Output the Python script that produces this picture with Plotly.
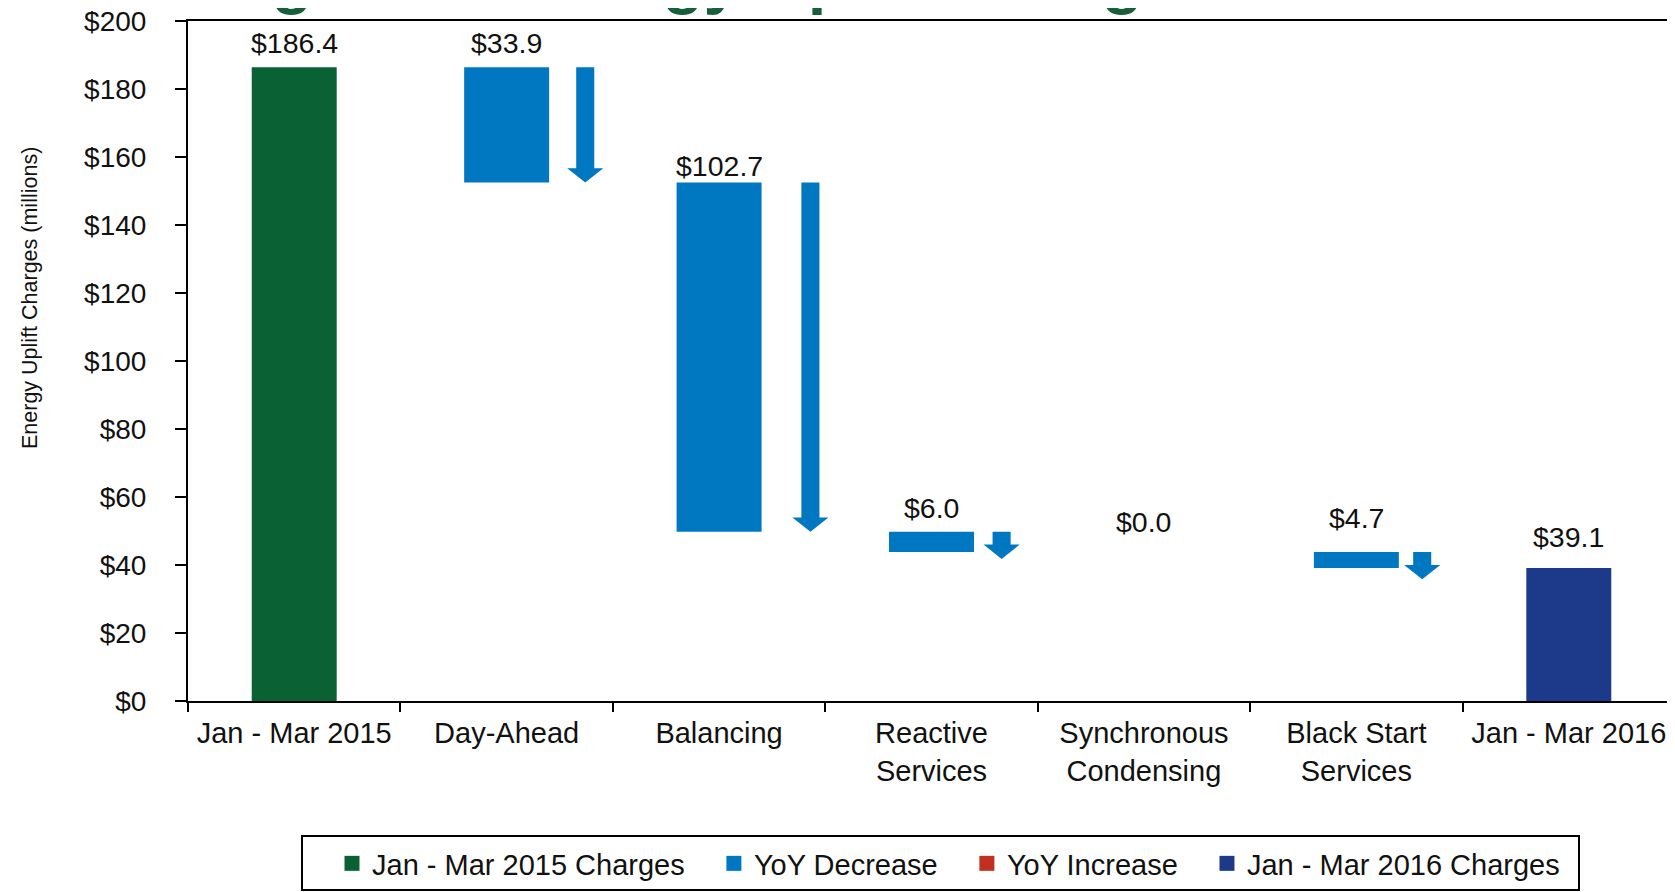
import plotly.graph_objects as go

# ---------------- data ----------------
categories = ["Jan - Mar 2015", "Day-Ahead", "Balancing", "Reactive<br>Services",
              "Synchronous<br>Condensing", "Black Start<br>Services", "Jan - Mar 2016"]
start_total = 186.4                          # Jan - Mar 2015 charges
changes = [-33.9, -102.7, -6.0, 0.0, -4.7]   # Day-Ahead .. Black Start (YoY)
end_total = 39.1                             # Jan - Mar 2016 charges
y_tick_values = [0, 20, 40, 60, 80, 100, 120, 140, 160, 180, 200]
y_tick_labels = ["$" + str(v) for v in y_tick_values]
legend_names = ["Jan - Mar 2015 Charges", "YoY Decrease", "YoY Increase", "Jan - Mar 2016 Charges"]
title_text = "Figure 1: Energy Uplift Charges"
y_title = "Energy Uplift Charges (millions)"

# ---------------- style ----------------
C_START = "#0A6234"
C_DEC = "#0077C1"
C_INC = "#C1311E"
C_END = "#1D3A8A"
LEG_COLORS = [C_START, C_DEC, C_INC, C_END]
TXT = "#111111"
FONT = "Liberation Sans, Arial, sans-serif"
BAR_W = 0.4
ARROW_DX = [0.37, 0.43, 0.33, 0.36, 0.31]   # arrow offset right of each change bar
SHAFT_W = 0.085
HEAD_W = 0.17
HEAD_H = 4.2
MIN_ARROW = 8.0
LABEL_SHIFT = [24, 24, 17, 24, 30, 34, 31]
LEG_PAD = "\u00a0\u00a0\u00a0"

# page has an 8px body margin: size the figure so the plot area lands where the source has it
OFF = 8
W, H = 1675 - OFF, 892 - OFF
ML, MR, MT = 188 - OFF, 0, 21 - OFF
PW, PH = 1487, 680
MB = H - MT - PH


def px(xp):   # page x -> paper x
    return (xp - 188) / PW


def py(yp):   # page y -> paper y
    return (701 - yp) / PH


fig = go.Figure()

# start bar
fig.add_trace(go.Bar(x=[0], y=[start_total], base=[0], width=BAR_W, showlegend=False,
                     name=legend_names[0], marker=dict(color=C_START, line=dict(width=0))))

# change bars (waterfall)
level = start_total
dec_x, dec_y, dec_base, tops = [], [], [], [start_total]
inc_x, inc_y, inc_base = [], [], []
levels_before = []
for i, ch in enumerate(changes):
    levels_before.append(level)
    new_level = level + ch
    if ch <= 0:
        dec_x.append(i + 1); dec_y.append(-ch); dec_base.append(new_level)
    else:
        inc_x.append(i + 1); inc_y.append(ch); inc_base.append(level)
    tops.append(max(level, new_level))
    level = new_level
tops.append(end_total)

fig.add_trace(go.Bar(x=dec_x, y=dec_y, base=dec_base, width=BAR_W, showlegend=False,
                     name=legend_names[1], marker=dict(color=C_DEC, line=dict(width=0))))
if inc_x:
    fig.add_trace(go.Bar(x=inc_x, y=inc_y, base=inc_base, width=BAR_W, showlegend=False,
                         name=legend_names[2], marker=dict(color=C_INC, line=dict(width=0))))
fig.add_trace(go.Bar(x=[6], y=[end_total], base=[0], width=BAR_W, showlegend=False,
                     name=legend_names[3], marker=dict(color=C_END, line=dict(width=0))))

# legend entries (square swatches)
for name, col in zip(legend_names, LEG_COLORS):
    fig.add_trace(go.Scatter(x=[None], y=[None], mode="markers", name=name + LEG_PAD,
                             marker=dict(symbol="square", size=15, color=col, line=dict(width=0))))

# arrows beside change bars
for i, ch in enumerate(changes):
    if ch == 0:
        continue
    top = levels_before[i]
    bottom = min(top + ch, top - MIN_ARROW)
    xc = i + 1 + ARROW_DX[i]
    hy = bottom + HEAD_H
    xs = [xc - SHAFT_W / 2, xc + SHAFT_W / 2, xc + SHAFT_W / 2, xc + HEAD_W / 2, xc,
          xc - HEAD_W / 2, xc - SHAFT_W / 2, xc - SHAFT_W / 2]
    ys = [top, top, hy, hy, bottom, hy, hy, top]
    fig.add_trace(go.Scatter(x=xs, y=ys, fill="toself", fillcolor=C_DEC, mode="lines",
                             line=dict(width=0, color=C_DEC), showlegend=False, hoverinfo="skip"))

# value labels
values = [start_total] + changes + [end_total]
for i, v in enumerate(values):
    fig.add_annotation(x=i, y=tops[i], text=f"${abs(v):.1f}", showarrow=False,
                       yanchor="middle", yshift=LABEL_SHIFT[i],
                       font=dict(family=FONT, size=28.5, color=TXT))

# y-axis title
fig.add_annotation(xref="paper", yref="paper", x=0, y=py(298), xshift=-158,
                   text=y_title, textangle=-90, showarrow=False,
                   xanchor="center", yanchor="middle",
                   font=dict(family=FONT, size=21.5, color=TXT))

# chart title (cut off at the top edge, as in the source picture)
fig.add_annotation(xref="paper", yref="paper", x=px(210), y=1,
                   xanchor="left", yanchor="bottom", yshift=4, showarrow=False,
                   text="<b>" + title_text + "</b>",
                   font=dict(family=FONT, size=67, color="#175E3A"))

# legend frame
fig.add_shape(type="rect", xref="paper", yref="paper",
              x0=px(302), x1=px(1579), y0=py(890), y1=py(836),
              line=dict(color="black", width=2), fillcolor="rgba(0,0,0,0)", layer="above")

boundaries = [i - 0.5 for i in range(len(categories) + 1)]

fig.update_layout(
    width=W, height=H,
    margin=dict(l=ML, r=MR, t=MT, b=MB, pad=0, autoexpand=False),
    paper_bgcolor="white", plot_bgcolor="white",
    barmode="overlay",
    font=dict(family=FONT, size=28, color=TXT),
    showlegend=True,
    legend=dict(orientation="h", xref="container", yref="container",
                x=(332 - OFF) / W, y=1 - (838 - OFF) / H, xanchor="left", yanchor="top",
                borderwidth=0, bgcolor="rgba(0,0,0,0)", itemsizing="trace",
                font=dict(family=FONT, size=29, color=TXT),
                itemclick=False, traceorder="normal"),
    xaxis=dict(range=[-0.5, 6.5], tickmode="array", tickvals=list(range(len(categories))),
               ticktext=categories, ticks="", showline=True, linecolor="black", linewidth=2,
               mirror=True, showgrid=False, zeroline=False, ticklabelstandoff=5,
               automargin=False, ticklabeloverflow="allow",
               tickfont=dict(family=FONT, size=29, color=TXT),
               minor=dict(tickmode="array", tickvals=boundaries, ticks="outside", ticklen=9,
                          tickwidth=2, tickcolor="black", showgrid=False)),
    yaxis=dict(range=[0, 200], tickmode="array", tickvals=y_tick_values, ticktext=y_tick_labels,
               ticks="outside", ticklen=11, tickwidth=2, tickcolor="black",
               showline=True, linecolor="black", linewidth=2, showgrid=False, zeroline=False,
               automargin=False, ticklabeloverflow="allow",
               ticklabelstandoff=23, tickfont=dict(family=FONT, size=28, color=TXT)),
)

fig.write_html("out.html")
